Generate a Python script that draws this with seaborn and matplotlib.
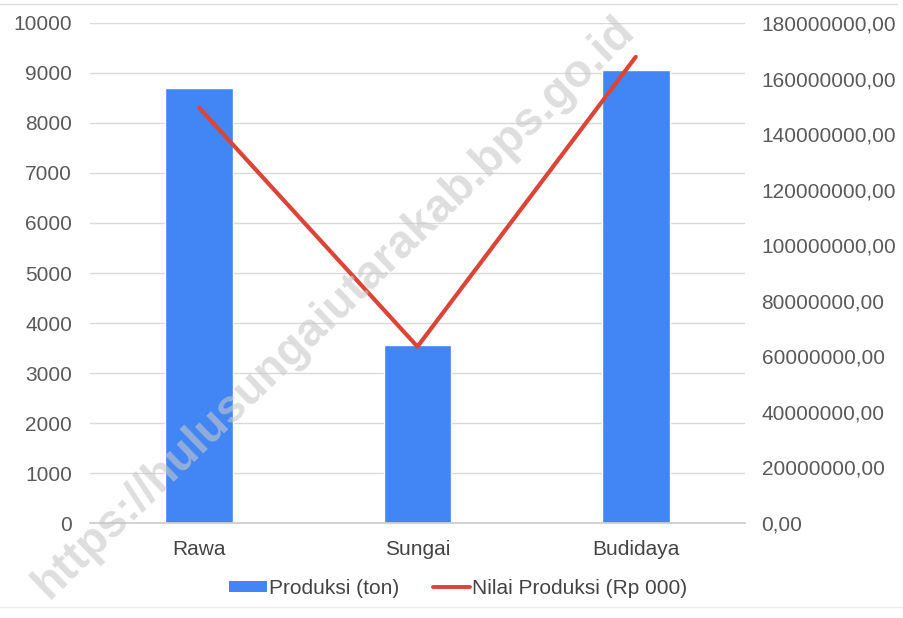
import numpy as np
import pandas as pd
import matplotlib
matplotlib.use("Agg")
import matplotlib.pyplot as plt
import seaborn as sns
from matplotlib.ticker import FuncFormatter
from matplotlib.patches import Patch
from matplotlib.lines import Line2D

categories = ["Rawa", "Sungai", "Budidaya"]
produksi = [8700, 3570, 9050]
nilai = [149500000, 63500000, 167800000]
left_ticks = [0, 1000, 2000, 3000, 4000, 5000, 6000, 7000, 8000, 9000, 10000]
right_ticks = [0, 20000000, 40000000, 60000000, 80000000, 100000000,
               120000000, 140000000, 160000000, 180000000]

sns.set_theme(style="white")
plt.rcParams['font.family'] = ['Liberation Sans', 'DejaVu Sans']

BLUE = "#4285F4"
RED = "#DB4437"
TXT = "#5a5a5a"

fig = plt.figure(figsize=(9.04, 6.18), dpi=100)
ax = fig.add_axes([0.0996, 0.1537, 0.7244, 0.8091])

df = pd.DataFrame({"kategori": categories, "produksi": produksi})
sns.barplot(data=df, x="kategori", y="produksi", color=BLUE, saturation=1,
            width=0.31, ax=ax, zorder=2)
ax.set_xlim(-0.5, 2.5)
ax.set_ylim(0, 10000)
ax.set_yticks(left_ticks)
ax.yaxis.grid(True, color="#d9d9d9", linewidth=1)
ax.set_axisbelow(True)
for s in ["top", "right", "left"]:
    ax.spines[s].set_visible(False)
ax.spines["bottom"].set_color("#cccccc")
ax.set_xlabel("")
ax.set_ylabel("")
ax.tick_params(axis="y", length=0, labelsize=15, colors=TXT, pad=13)
ax.tick_params(axis="x", length=0, labelsize=15, colors="#444444", pad=12)

ax2 = ax.twinx()
sns.lineplot(x=np.arange(len(categories)), y=nilai, color=RED, linewidth=3,
             ax=ax2, zorder=3)
ax2.set_ylim(0, 180000000)
ax2.set_yticks(right_ticks)
ax2.yaxis.set_major_formatter(FuncFormatter(lambda v, p: f"{v:.2f}".replace(".", ",")))
for s in ["top", "right", "left", "bottom"]:
    ax2.spines[s].set_visible(False)
ax2.tick_params(axis="y", length=0, labelsize=15, colors=TXT, pad=12)
ax2.set_ylabel("")
ax2.grid(False)

handles = [Patch(facecolor=BLUE, edgecolor="none"),
           Line2D([0], [0], color=RED, linewidth=2.8)]
fig.legend(handles, ["Produksi (ton)", "Nilai Produksi (Rp 000)"],
           loc="center", bbox_to_anchor=(0.507, 0.048), ncol=2, frameon=False,
           fontsize=15, handlelength=1.8, handleheight=0.45, handletextpad=0.1,
           columnspacing=1.6, labelcolor="#444444")

# top and bottom frame lines
fig.add_artist(Line2D([0, 0.992], [0.994, 0.994], transform=fig.transFigure,
                      color="#dddddd", linewidth=1))
fig.add_artist(Line2D([0, 1], [0.017, 0.017], transform=fig.transFigure,
                      color="#eeeeee", linewidth=1))

# watermark
fig.text(0.37, 0.502, "https://hulusungaiutarakab.bps.go.id", rotation=44,
         ha="center", va="center", fontsize=33.5, fontweight="bold",
         color="#c8c8c8", alpha=0.6, zorder=10)

fig.savefig("out.png", dpi=100, facecolor="white")
